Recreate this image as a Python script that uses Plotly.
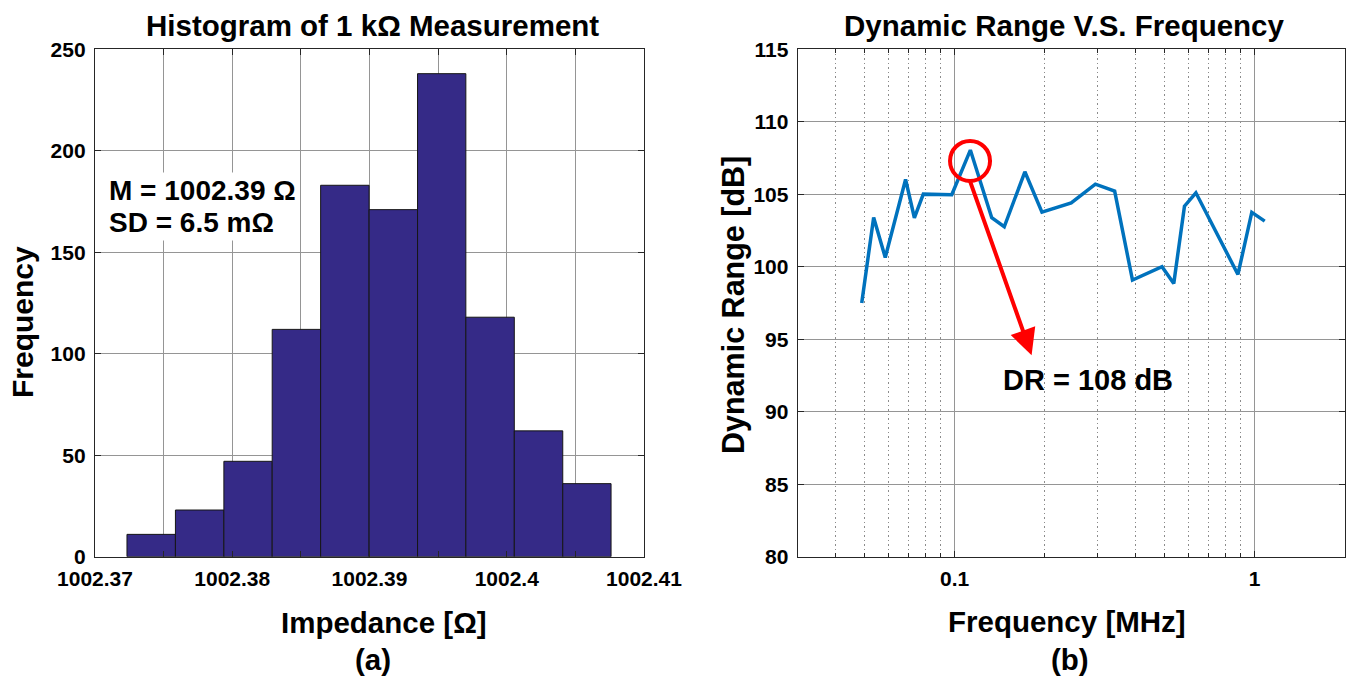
import numpy as np
import plotly.graph_objects as go

# ---------------- data ----------------
# Histogram (a)
bin_edges = [1002.37233, 1002.37586, 1002.37939, 1002.38291, 1002.38644, 1002.38997,
             1002.39350, 1002.39702, 1002.40055, 1002.40408, 1002.40760]
counts = [11, 23, 47, 112, 183, 171, 238, 118, 62, 36]
x_ticks_a = [1002.37, 1002.375, 1002.38, 1002.385, 1002.39, 1002.395, 1002.40, 1002.405, 1002.41]
x_ticklabels_a = ["1002.37", "", "1002.38", "", "1002.39", "", "1002.4", "", "1002.41"]
y_ticks_a = [0, 50, 100, 150, 200, 250]

# Dynamic range (b)
freq_mhz = [0.049, 0.0537, 0.0587, 0.0686, 0.0734, 0.0786, 0.0978, 0.1128, 0.1329, 0.1463,
            0.1714, 0.1954, 0.2446, 0.2944, 0.3414, 0.3914, 0.491, 0.5374, 0.5834, 0.6368,
            0.8794, 0.978, 1.080]
dr_db = [97.5, 103.40, 100.64, 106.02, 103.38, 105.01, 104.97, 108.05, 103.38, 102.76,
         106.55, 103.77, 104.41, 105.70, 105.22, 99.08, 100.0, 98.85, 104.18, 105.10,
         99.47, 103.75, 103.15]
x_ticks_b = [0.1, 1]
x_ticklabels_b = ["0.1", "1"]
x_minor_b = [0.04, 0.05, 0.06, 0.07, 0.08, 0.09, 0.2, 0.3, 0.4, 0.5, 0.6, 0.7, 0.8, 0.9]
y_ticks_b = [80, 85, 90, 95, 100, 105, 110, 115]
circle_f, circle_db = 0.1125, 107.3
arrow_tip_f, arrow_tip_db = 0.1805, 93.9
arrow_tail_f, arrow_tail_db = 0.1122, 105.98

# ---------------- figure ----------------
W, H = 1349, 677
FONT = "Liberation Sans, Arial, Helvetica, sans-serif"
edges = np.array(bin_edges)
centers = (edges[:-1] + edges[1:]) / 2
widths = np.diff(edges)

fig = go.Figure()
fig.add_trace(go.Bar(x=centers, y=counts, width=widths,
                     marker=dict(color="#352A87", line=dict(color="#161616", width=1)),
                     xaxis="x", yaxis="y", showlegend=False))
fig.add_trace(go.Scatter(x=freq_mhz, y=dr_db, mode="lines",
                         line=dict(color="#0072BD", width=3.5),
                         xaxis="x2", yaxis="y2", showlegend=False))

def px(x):
    return x / W

def py(y):
    return 1 - y / H

ydom = [py(556.7), py(49.3)]
tickfont = dict(family=FONT, size=21, color="black", weight="bold")
axis_common = dict(showline=True, mirror="ticks", linecolor="#262626", linewidth=1.3,
                   ticks="inside", ticklen=6, tickcolor="#262626", tickfont=tickfont,
                   showgrid=True, gridcolor="#959595", gridwidth=1.2, zeroline=False)

fig.update_layout(
    width=W, height=H, margin=dict(l=0, r=0, t=0, b=0, autoexpand=False),
    paper_bgcolor="white", plot_bgcolor="white",
    xaxis=dict(domain=[px(95), px(644)], range=[1002.37, 1002.41],
               tickmode="array", tickvals=x_ticks_a, ticktext=x_ticklabels_a,
               anchor="y", ticklabelstandoff=3, **axis_common),
    yaxis=dict(domain=ydom, range=[0, 250], tickmode="array", tickvals=y_ticks_a,
               anchor="x", ticklabelstandoff=4, **axis_common),
    xaxis2=dict(domain=[px(797.8), px(1345)], type="log",
                range=[np.log10(0.03), np.log10(2)],
                tickmode="array", tickvals=x_ticks_b, ticktext=x_ticklabels_b,
                minor=dict(tickmode="array", tickvals=x_minor_b, ticks="inside", ticklen=4,
                           tickcolor="#262626", showgrid=True, gridcolor="#8c8c8c",
                           griddash="1.5px,3px", gridwidth=1),
                anchor="y2", ticklabelstandoff=3, **axis_common),
    yaxis2=dict(domain=ydom, range=[80, 115], tickmode="array", tickvals=y_ticks_b,
                anchor="x2", ticklabelstandoff=4, **axis_common),
)

def txt(text, x, y, size=29.5, angle=0, xanchor="center", **kw):
    fig.add_annotation(text=text, x=px(x), y=py(y), xref="paper", yref="paper",
                       showarrow=False, textangle=angle, xanchor=xanchor, yanchor="middle",
                       font=dict(family=FONT, size=size, color="black", weight="bold"), **kw)

txt("Histogram of 1 kΩ Measurement", 372, 25)
txt("Dynamic Range V.S. Frequency", 1064, 25)
txt("Impedance [Ω]", 384, 622)
txt("Frequency [MHz]", 1067, 621)
txt("(a)", 373, 659)
txt("(b)", 1070, 659)
txt("Frequency", 22, 322, size=30, angle=-90)
txt("Dynamic Range [dB]", 733, 305, size=30.5, angle=-90)
txt("M = 1002.39 Ω", 106, 191, size=28, xanchor="left", bgcolor="white", borderpad=2)
txt("SD = 6.5 mΩ", 106, 222, size=28, xanchor="left", bgcolor="white", borderpad=2)
txt("DR = 108 dB", 1088, 380, size=29)

# red circle around the peak (radius ~20 px on both axes)
dec_px = (1345 - 797.8) / (np.log10(2) - np.log10(0.03))
db_px = (556.7 - 49.3) / 35.0
r = 20
fig.add_shape(type="circle", xref="x2", yref="y2",
              x0=circle_f * 10 ** (-r / dec_px), x1=circle_f * 10 ** (r / dec_px),
              y0=circle_db - r / db_px, y1=circle_db + r / db_px,
              line=dict(color="#FF0000", width=4))
# red arrow
fig.add_annotation(x=np.log10(arrow_tip_f), y=arrow_tip_db, xref="x2", yref="y2",
                   ax=np.log10(arrow_tail_f), ay=arrow_tail_db, axref="x2", ayref="y2",
                   text="", showarrow=True, arrowhead=2, arrowsize=1.3, arrowwidth=4,
                   arrowcolor="#FF0000", standoff=0, startstandoff=0)

fig.write_html("out.html")
